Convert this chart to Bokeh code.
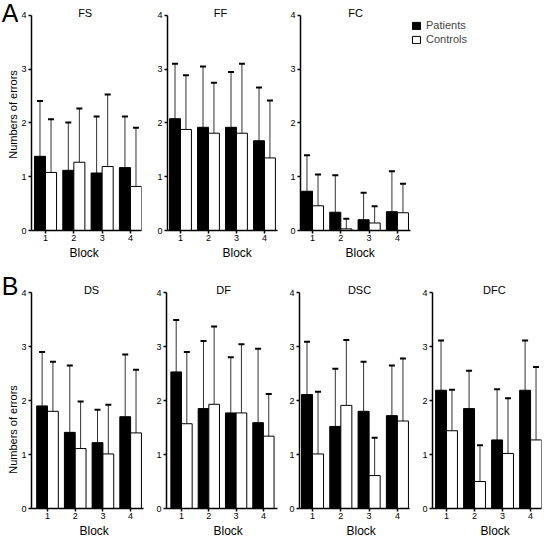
import math
from bokeh.plotting import figure
from bokeh.models import (ColumnDataSource, Whisker, TeeHead, Label, Legend,
                          LegendItem, Range1d, Title)
from bokeh.layouts import row, column
from bokeh.embed import file_html
from bokeh.resources import INLINE

# ---------------- data ----------------
blocks = [1, 2, 3, 4]
y_ticks = [0, 1, 2, 3, 4]
series_names = ["Patients", "Controls"]
y_title = "Numbers of errors"
x_title = "Block"

fs_patients = [1.38, 1.12, 1.07, 1.17]
fs_patients_sd = [1.03, 0.89, 1.05, 0.95]
fs_controls = [1.08, 1.27, 1.19, 0.82]
fs_controls_sd = [0.99, 1.00, 1.34, 1.09]

ff_patients = [2.08, 1.92, 1.92, 1.67]
ff_patients_sd = [1.02, 1.13, 1.03, 0.99]
ff_controls = [1.88, 1.81, 1.81, 1.35]
ff_controls_sd = [1.01, 0.94, 1.29, 1.07]

fc_patients = [0.73, 0.34, 0.20, 0.35]
fc_patients_sd = [0.67, 0.69, 0.50, 0.75]
fc_controls = [0.46, 0.03, 0.14, 0.33]
fc_controls_sd = [0.58, 0.19, 0.31, 0.54]

ds_patients = [1.90, 1.41, 1.22, 1.70]
ds_patients_sd = [1.00, 1.24, 0.61, 1.15]
ds_controls = [1.80, 1.11, 1.01, 1.40]
ds_controls_sd = [0.92, 0.87, 0.91, 1.17]

df_patients = [2.53, 1.85, 1.77, 1.59]
df_patients_sd = [0.96, 1.25, 1.03, 1.37]
df_controls = [1.57, 1.93, 1.77, 1.34]
df_controls_sd = [1.33, 1.44, 1.27, 0.78]

dsc_patients = [2.11, 1.52, 1.80, 1.72]
dsc_patients_sd = [0.98, 1.07, 0.92, 0.93]
dsc_controls = [1.01, 1.91, 0.61, 1.62]
dsc_controls_sd = [1.15, 1.21, 0.70, 1.16]

dfc_patients = [2.19, 1.85, 1.27, 2.19]
dfc_patients_sd = [0.92, 0.70, 0.94, 0.92]
dfc_controls = [1.44, 0.50, 1.02, 1.27]
dfc_controls_sd = [0.76, 0.67, 1.02, 1.35]

FONT = "Liberation Sans"
BW = 0.39


def make_panel(name, pm, psd, cm, csd, mbl, fw, mbr, fh, mbb, xs, xe, ye,
               title_x, block_offset, axis_end=None):
    p = figure(frame_width=fw, frame_height=fh, min_border_left=mbl,
               min_border_right=mbr, min_border_top=0, min_border_bottom=mbb,
               x_range=Range1d(xs, xe), y_range=Range1d(0, ye),
               output_backend="svg", toolbar_location=None, tools="")
    p.outline_line_color = None
    p.grid.visible = False
    p.background_fill_color = "white"
    p.border_fill_color = "white"
    p.xaxis.ticker = blocks
    p.yaxis.ticker = y_ticks
    p.yaxis.bounds = (0, 4)
    if axis_end is not None:
        p.xaxis.bounds = (xs, axis_end)
    for ax in (p.xaxis[0], p.yaxis[0]):
        ax.axis_line_color = "black"
        ax.axis_line_width = 1.5
        ax.major_tick_line_color = "black"
        ax.major_tick_line_width = 1.5
        ax.major_tick_out = 3
        ax.major_tick_in = 0
        ax.minor_tick_out = 0
        ax.minor_tick_in = 0
        ax.major_label_text_font = FONT
        ax.major_label_text_font_size = "9px"
        ax.major_label_text_color = "black"
    p.xaxis.major_label_standoff = 1
    p.yaxis.major_label_standoff = 2

    src_p = ColumnDataSource(dict(
        x=[b - BW / 2 for b in blocks], top=pm,
        upper=[m + s for m, s in zip(pm, psd)]))
    src_c = ColumnDataSource(dict(
        x=[b + BW / 2 for b in blocks], top=cm,
        upper=[m + s for m, s in zip(cm, csd)]))
    for src in (src_p, src_c):
        p.add_layout(Whisker(source=src, base="x", lower="top", upper="upper",
                             line_color="#333333", line_width=1,
                             upper_head=TeeHead(size=6, line_width=2,
                                                line_color="black"),
                             lower_head=None))
    rp = p.vbar(x="x", top="top", bottom=0, width=BW, source=src_p,
                fill_color="black", line_color="black", line_width=1)
    rc = p.vbar(x="x", top="top", bottom=0, width=BW, source=src_c,
                fill_color="white", line_color="black", line_width=1)

    p.add_layout(Label(x=title_x, y=4.04, text=name, text_align="center",
                       text_baseline="middle", text_font=FONT,
                       text_font_size="11px", text_color="black"))
    p.add_layout(Title(text=x_title, align="left", offset=block_offset,
                       standoff=0, text_font=FONT, text_font_size="12px",
                       text_font_style="normal", text_color="black"), "below")
    return p, rp, rc


def make_strip(h, letter, letter_y, ylab_y):
    s = figure(frame_width=18, frame_height=h, min_border=0,
               x_range=Range1d(0, 18), y_range=Range1d(h, 0),
               x_axis_type=None, y_axis_type=None,
               output_backend="svg", toolbar_location=None, tools="")
    s.outline_line_color = None
    s.grid.visible = False
    s.add_layout(Label(x=9.5, y=letter_y, text=letter, text_align="center",
                       text_baseline="middle", text_font=FONT,
                       text_font_size="25px", text_color="black"))
    s.add_layout(Label(x=12, y=ylab_y, text=y_title, angle=math.pi / 2,
                       text_align="center", text_baseline="middle",
                       text_font=FONT, text_font_size="11px",
                       text_color="black"))
    return s


# top row: 0 at y=230, 53.75 px per unit, frame top at 0
strip_a = make_strip(260, "A", 12, 114)
fs, _, _ = make_panel("FS", fs_patients, fs_patients_sd, fs_controls, fs_controls_sd,
                      11, 110, 11, 230, 30, 0.505, 4.39, 4.279, 2.4, 38)
ff, _, _ = make_panel("FF", ff_patients, ff_patients_sd, ff_controls, ff_controls_sd,
                      15, 110, 10, 230, 30, 0.536, 4.465, 4.279, 2.43, 55)
fc, rp, rc = make_panel("FC", fc_patients, fc_patients_sd, fc_controls, fc_controls_sd,
                        12, 245, 0, 230, 30, 0.576, 9.23, 4.279, 2.52, 45,
                        axis_end=4.46)

# bottom row: 0 at y=508, 54 px per unit, frame top at 260
strip_b = make_strip(277, "B", 25, 169)
ds, _, _ = make_panel("DS", ds_patients, ds_patients_sd, ds_controls, ds_controls_sd,
                      12, 112, 8, 248, 29, 0.422, 4.465, 4.593, 2.59, 48)
df, _, _ = make_panel("DF", df_patients, df_patients_sd, df_controls, df_controls_sd,
                      15, 111, 9, 248, 29, 0.45, 4.516, 4.593, 2.54, 47)
dsc, _, _ = make_panel("DSC", dsc_patients, dsc_patients_sd, dsc_controls, dsc_controls_sd,
                       13, 110, 10, 248, 29, 0.54, 4.427, 4.593, 2.66, 47)
dfc, _, _ = make_panel("DFC", dfc_patients, dfc_patients_sd, dfc_controls, dfc_controls_sd,
                       13, 109, 2, 248, 29, 0.5, 4.39, 4.593, 2.71, 48)

legend = Legend(items=[LegendItem(label=series_names[0], renderers=[rp]),
                       LegendItem(label=series_names[1], renderers=[rc])],
                location=(111, 185), padding=0, margin=0, spacing=2,
                glyph_width=10, glyph_height=9, label_standoff=5,
                label_text_font=FONT, label_text_font_size="11px",
                border_line_alpha=0, background_fill_alpha=0)
fc.add_layout(legend)

layout = column(row(strip_a, fs, ff, fc), row(strip_b, ds, df, dsc, dfc))

open("out.html", "w").write(file_html(layout, INLINE))
